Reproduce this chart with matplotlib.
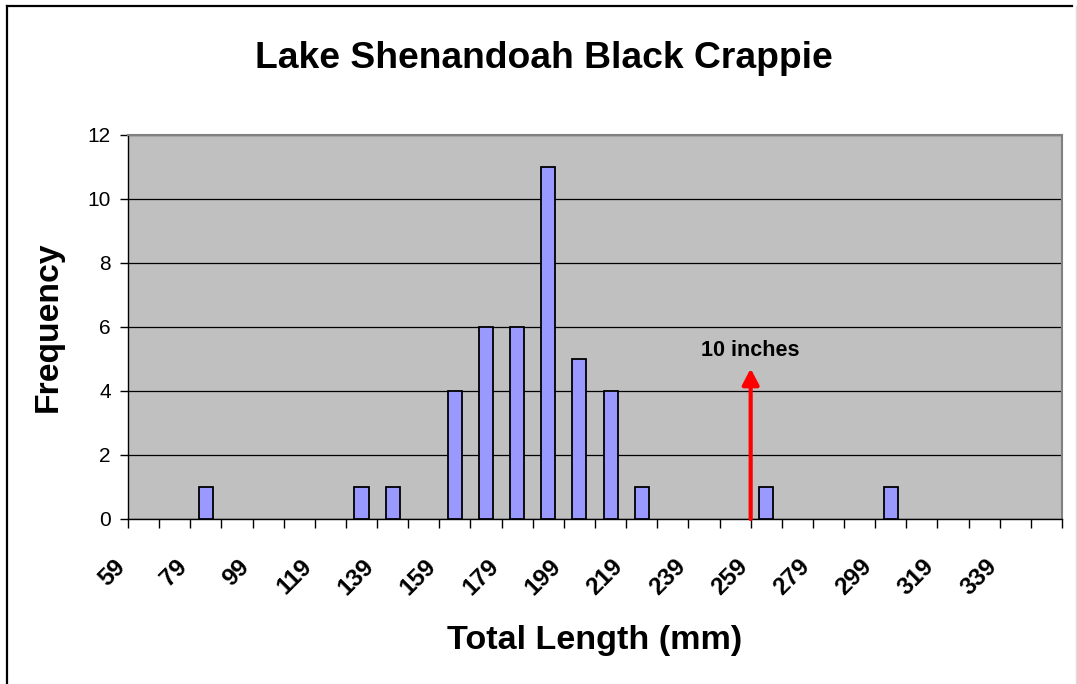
import matplotlib
matplotlib.use('Agg')
import matplotlib.pyplot as plt
from matplotlib.lines import Line2D
from matplotlib.transforms import ScaledTranslation

plt.rcParams['font.family'] = ['Liberation Sans', 'DejaVu Sans']

# length classes (mm) and fish counts
length_mm = [59, 69, 79, 89, 99, 109, 119, 129, 139, 149,
             159, 169, 179, 189, 199, 209, 219, 229, 239, 249,
             259, 269, 279, 289, 299, 309, 319, 329, 339, 349]
frequency = [0, 0, 1, 0, 0, 0, 0, 1, 1, 0,
             4, 6, 6, 11, 5, 4, 1, 0, 0, 0,
             1, 0, 0, 0, 1, 0, 0, 0, 0, 0]
tick_labels = ['59', '79', '99', '119', '139', '159', '179', '199', '219',
               '239', '259', '279', '299', '319', '339']
ten_inches_mm = 254
arrow_top = 4.7
bin_mm = 10

W, H = 1077, 684
fig = plt.figure(figsize=(W/100, H/100), dpi=100)
ax = fig.add_axes([128/W, 1-519/H, (1062-128)/W, (519-135)/H])
ax.set_facecolor('#C0C0C0')

# empty classes draw nothing (Excel shows no outline for 0)
xs = [x for x, f in zip(length_mm, frequency) if f > 0]
fs = [f for f in frequency if f > 0]
ax.bar(xs, fs, width=bin_mm*0.45, color='#9999FF', edgecolor='black', linewidth=1.3, zorder=3)

ax.set_xlim(length_mm[0]-bin_mm/2, length_mm[-1]+bin_mm/2)
ax.set_ylim(0, 12)
ax.set_yticks(range(0, 13, 2))
ax.yaxis.grid(True, color='black', linewidth=0.9, zorder=1)
ax.set_axisbelow(True)

# category boundaries get the tick marks, labels sit on every other category
ax.set_xticks([x - bin_mm/2 for x in length_mm] + [length_mm[-1] + bin_mm/2], minor=True)
ax.set_xticks([int(t) for t in tick_labels])
ax.set_xticklabels(tick_labels, rotation=45, ha='right', va='top', fontsize=17.5, fontweight='bold')
ax.tick_params(axis='x', which='major', length=0, pad=26)
ax.tick_params(axis='x', which='minor', length=6.5, width=1, direction='out')
ax.tick_params(axis='y', length=5.5, width=1, pad=7, labelsize=15)
shift = ScaledTranslation(-0.14, 0, fig.dpi_scale_trans)
for lab in ax.get_xticklabels():
    lab.set_transform(lab.get_transform() + shift)

for s in ['top', 'right']:
    ax.spines[s].set_color('#808080')
    ax.spines[s].set_linewidth(1.5)
for s in ['left', 'bottom']:
    ax.spines[s].set_color('black')
    ax.spines[s].set_linewidth(1)

ax.annotate('', xy=(ten_inches_mm, arrow_top), xytext=(ten_inches_mm, 0),
            arrowprops=dict(arrowstyle='-|>,head_length=0.95,head_width=0.5', color='red',
                            lw=3, mutation_scale=10, shrinkA=0, shrinkB=0), zorder=5)
ax.text(ten_inches_mm, 5.28, '10 inches', ha='center', va='center', fontsize=15.5, fontweight='bold', zorder=5)

fig.text(543.5/W, 1-68/H, 'Lake Shenandoah Black Crappie', ha='center', va='baseline',
         fontsize=26.8, fontweight='bold')
fig.text(595/W, 1-649/H, 'Total Length (mm)', ha='center', va='baseline', fontsize=24.6, fontweight='bold')
fig.text(56.7/W, 1-327/H, 'Frequency', rotation=90, rotation_mode='anchor', ha='center', va='baseline',
         fontsize=24.3, fontweight='bold')

# outer chart frame
fig.add_artist(Line2D([7/W, 7/W], [0, 1-6/H], color='black', linewidth=1.6))
fig.add_artist(Line2D([7/W, 1072/W], [1-6/H, 1-6/H], color='black', linewidth=1.6))
fig.add_artist(Line2D([1075.5/W, 1075.5/W], [0, 1-6/H], color='#DDDDDD', linewidth=1))

fig.savefig('out.png', dpi=100)
